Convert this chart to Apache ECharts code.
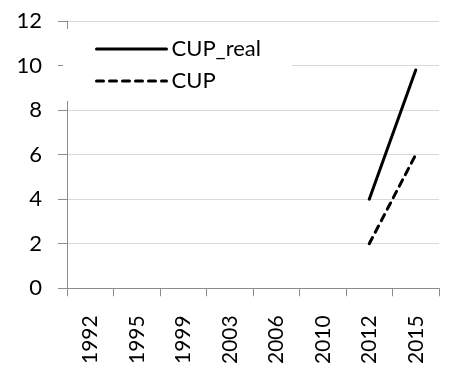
<!DOCTYPE html>
<html><head><meta charset="utf-8">
<script src="https://cdn.jsdelivr.net/npm/echarts@6/dist/echarts.min.js"></script>
<style>html,body{margin:0;padding:0;background:#fff}#c{width:460px;height:367px}</style>
</head><body><div id="c"></div>
<script>
const categories = ['1992','1995','1999','2003','2006','2010','2012','2015'];
const cupReal = [null,null,null,null,null,null,4,9.8];
const cup = [null,null,null,null,null,null,2,6];
const yTicks = {min:0, max:12, interval:2};
const FONT = 'Lato';
const chart = echarts.init(document.getElementById('c'));
chart.setOption({
  animation:false,
  backgroundColor:'#fff',
  grid:{left:67,right:21,top:21,bottom:78,containLabel:false},
  legend:{
    orient:'vertical', left:63, top:29,
    padding:[9,31,9,32],
    backgroundColor:'#fff',
    itemWidth:70, itemHeight:14, itemGap:10,
    itemStyle:{opacity:0},
    lineStyle:{width:3,cap:'round'},
    textStyle:{fontFamily:FONT,fontSize:22,color:'#000',padding:[0,0,0,0]},
    data:['CUP_real','CUP']
  },
  xAxis:{
    type:'category', data:categories, boundaryGap:true,
    axisLine:{lineStyle:{color:'#8c8c8c',width:1}},
    axisTick:{show:true,length:8,lineStyle:{color:'#8c8c8c'}},
    axisLabel:{rotate:90,margin:27,fontFamily:FONT,fontSize:21,color:'#000',interval:0},
    splitLine:{show:false}
  },
  yAxis:{
    type:'value', min:yTicks.min, max:yTicks.max, interval:yTicks.interval,
    axisLine:{show:true,lineStyle:{color:'#8c8c8c',width:1}},
    axisTick:{show:true,length:9,lineStyle:{color:'#8c8c8c'}},
    axisLabel:{margin:25,fontFamily:FONT,fontSize:22,color:'#000'},
    splitLine:{show:true,lineStyle:{color:'#d9d9d9',width:1}}
  },
  series:[
    {name:'CUP_real',type:'line',data:cupReal,symbol:'none',connectNulls:false,
     lineStyle:{color:'#000',width:3,cap:'round'},itemStyle:{color:'#000'}},
    {name:'CUP',type:'line',data:cup,symbol:'none',connectNulls:false,
     lineStyle:{color:'#000',width:3,type:[7,6],cap:'round'},itemStyle:{color:'#000'}}
  ]
});
</script></body></html>
